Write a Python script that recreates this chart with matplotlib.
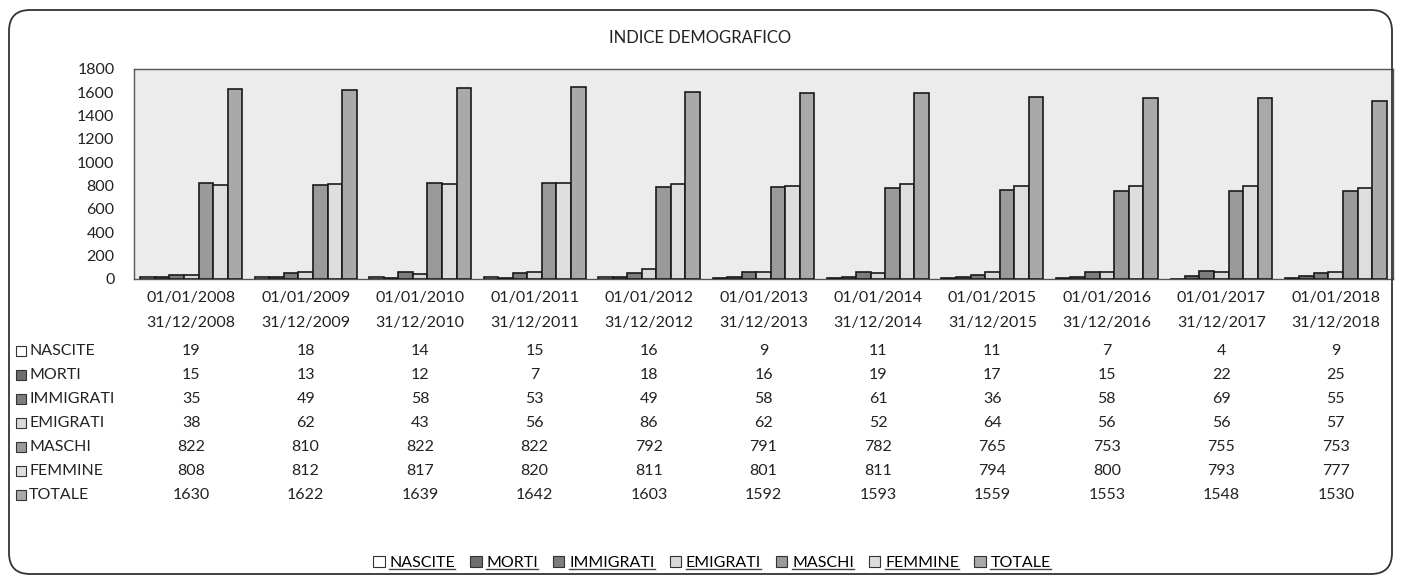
import numpy as np
import matplotlib.pyplot as plt
from matplotlib.patches import FancyBboxPatch, Patch
from matplotlib.lines import Line2D
import matplotlib.transforms as mtransforms

plt.rcParams['font.family'] = ['Lato', 'DejaVu Sans']

# data
periodi_inizio = ['01/01/2008', '01/01/2009', '01/01/2010', '01/01/2011', '01/01/2012', '01/01/2013',
                  '01/01/2014', '01/01/2015', '01/01/2016', '01/01/2017', '01/01/2018']
periodi_fine = ['31/12/2008', '31/12/2009', '31/12/2010', '31/12/2011', '31/12/2012', '31/12/2013',
                '31/12/2014', '31/12/2015', '31/12/2016', '31/12/2017', '31/12/2018']
nascite = [19, 18, 14, 15, 16, 9, 11, 11, 7, 4, 9]
morti = [15, 13, 12, 7, 18, 16, 19, 17, 15, 22, 25]
immigrati = [35, 49, 58, 53, 49, 58, 61, 36, 58, 69, 55]
emigrati = [38, 62, 43, 56, 86, 62, 52, 64, 56, 56, 57]
maschi = [822, 810, 822, 822, 792, 791, 782, 765, 753, 755, 753]
femmine = [808, 812, 817, 820, 811, 801, 811, 794, 800, 793, 777]
totale = [1630, 1622, 1639, 1642, 1603, 1592, 1593, 1559, 1553, 1548, 1530]

nomi = ['NASCITE', 'MORTI', 'IMMIGRATI', 'EMIGRATI', 'MASCHI', 'FEMMINE', 'TOTALE']
serie = [nascite, morti, immigrati, emigrati, maschi, femmine, totale]
colori = ['#ffffff', '#6e6e6e', '#7d7d7d', '#d9d9d9', '#9a9a9a', '#dedede', '#a9a9a9']

W, H = 1401, 584
fig = plt.figure(figsize=(W / 100, H / 100), dpi=100)

def fx(px):
    return px / W

def fy(py):
    return 1 - py / H

# rounded border around the whole chart
border = FancyBboxPatch((fx(9), fy(574)), fx(1392) - fx(9), fy(10) - fy(574),
                        boxstyle='round,pad=0,rounding_size=0.015', transform=fig.transFigure,
                        facecolor='none', edgecolor='#333333', linewidth=1.3, mutation_aspect=W / H)
fig.patches.append(border)

ax = fig.add_axes([fx(134), fy(279), fx(1393) - fx(134), fy(69) - fy(279)])
ax.set_facecolor('#ececec')
for s in ax.spines.values():
    s.set_color('#555555')
    s.set_linewidth(1)

n = len(periodi_inizio)
x = np.arange(n)
w = 0.89 / 7
for i, (vals, c) in enumerate(zip(serie, colori)):
    ax.bar(x + (i - 3) * w, vals, width=w, color=c, edgecolor='#1a1a1a', linewidth=1.2, zorder=3)

ax.set_xlim(-0.5, n - 0.5)
ax.set_ylim(0, 1800)
ax.set_yticks(range(0, 1801, 200))
ax.tick_params(axis='y', length=0, labelsize=11.5, pad=14, colors='#222222')
ax.set_xticks([])

fig.text(0.5, fy(38), 'INDICE DEMOGRAFICO', ha='center', va='center', fontsize=12, color='#222222')

# data table below the plot
trans = mtransforms.blended_transform_factory(ax.transData, fig.transFigure)
for i in range(n):
    fig.text(x[i], fy(298), periodi_inizio[i], transform=trans, ha='center', va='center', fontsize=11.5, color='#222222')
    fig.text(x[i], fy(323), periodi_fine[i], transform=trans, ha='center', va='center', fontsize=11.5, color='#222222')

riga_y = [351, 375, 399, 423, 447, 471, 495]
for r, (nome, vals, c) in enumerate(zip(nomi, serie, colori)):
    yy = fy(riga_y[r])
    fig.add_artist(Line2D([fx(21)], [yy], marker='s', markersize=7, markerfacecolor=c,
                          markeredgecolor='#333333', markeredgewidth=0.8, transform=fig.transFigure))
    fig.text(fx(29), yy, nome, ha='left', va='center', fontsize=11.5, color='#222222')
    for i in range(n):
        fig.text(x[i], yy, str(vals[i]), transform=trans, ha='center', va='center', fontsize=11.5, color='#222222')

# legend
handles = [Patch(facecolor=c, edgecolor='#333333', linewidth=0.8) for c in colori]
leg = fig.legend(handles, nomi, loc='center', bbox_to_anchor=(fx(712), fy(563)), ncol=7, frameon=False,
                 fontsize=11.5, handlelength=0.7, handleheight=0.7, handletextpad=0.3, columnspacing=0.95)
fig.canvas.draw()
renderer = fig.canvas.get_renderer()
for t in leg.get_texts():
    bb = t.get_window_extent(renderer)
    fig.add_artist(Line2D([bb.x0 / W, bb.x1 / W], [(bb.y0 + 1) / H] * 2, color='#444444',
                          linewidth=1, transform=fig.transFigure))

fig.savefig('out.png', dpi=100)
